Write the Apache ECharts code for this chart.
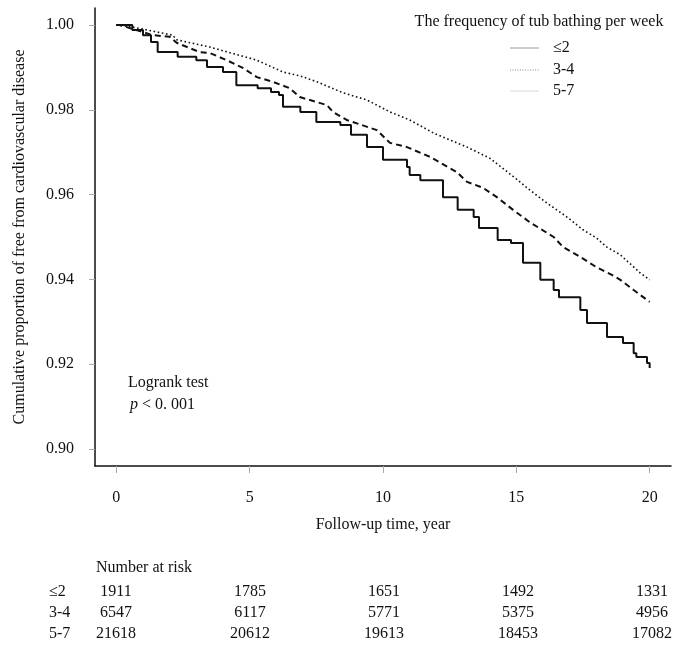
<!DOCTYPE html>
<html>
<head>
<meta charset="utf-8">
<script src="https://cdn.jsdelivr.net/npm/echarts@6/dist/echarts.min.js"></script>
<style>
html,body{margin:0;padding:0;background:#fff;}
#chart{width:688px;height:653px;}
</style>
</head>
<body>
<div id="chart"></div>
<script>
// ---- data ----
const groupNames = ['≤2', '3-4', '5-7'];
const xTicks = [0, 5, 10, 15, 20];
const yTicks = [0.90, 0.92, 0.94, 0.96, 0.98, 1.00];

// ≤2 (solid)
const t1 = [0, 0.6, 1.0, 1.3, 1.55, 2.3, 3.0, 3.4, 4.0, 4.5, 5.3, 5.8, 6.1, 6.25, 6.9, 7.5, 8.4, 8.8, 9.4, 10.0, 10.9, 11.0, 11.4, 12.25, 12.8, 13.4, 13.6, 14.3, 14.8, 15.25, 15.9, 16.4, 16.6, 17.4, 17.65, 18.4, 19.0, 19.4, 19.5, 19.9, 20.0];
const s1 = [1.0, 0.9988, 0.9976, 0.9960, 0.9936, 0.9925, 0.9917, 0.9901, 0.9889, 0.9858, 0.9851, 0.9842, 0.9835, 0.9807, 0.9795, 0.9771, 0.9764, 0.9741, 0.9712, 0.9682, 0.9665, 0.9646, 0.9634, 0.9594, 0.9564, 0.9547, 0.9521, 0.9493, 0.9486, 0.9439, 0.9399, 0.9375, 0.9358, 0.9328, 0.9297, 0.9264, 0.9250, 0.9226, 0.9217, 0.9203, 0.9191];

// 3-4 (dashed)
const t2 = [0, 0.13, 1.36, 2.0, 2.26, 3.13, 3.5, 4.14, 4.74, 5.27, 5.87, 6.5, 6.88, 7.9, 8.12, 8.64, 9.77, 10.26, 10.9, 11.76, 12.77, 13.15, 13.75, 14.27, 14.88, 15.5, 16.4, 16.76, 17.4, 18.0, 18.6, 18.9, 19.4, 20.0];
const s2 = [1.0, 1.0, 0.9976, 0.9972, 0.9958, 0.9936, 0.9934, 0.9917, 0.9899, 0.9877, 0.9866, 0.9851, 0.9830, 0.9811, 0.9795, 0.9776, 0.9752, 0.9722, 0.9712, 0.9689, 0.9653, 0.9630, 0.9616, 0.9594, 0.9564, 0.9535, 0.9500, 0.9476, 0.9453, 0.9429, 0.9410, 0.9399, 0.9375, 0.9347];

// 5-7 (dotted)
const t3 = [0, 0.62, 2.11, 2.26, 3.5, 5.27, 6.25, 6.88, 7.52, 8.5, 9.4, 10.26, 11.0, 11.9, 13.15, 14.0, 14.9, 15.5, 16.15, 16.9, 17.5, 18.0, 18.4, 18.9, 19.65, 20.0];
const s3 = [1.0, 0.9995, 0.9976, 0.9965, 0.9948, 0.9917, 0.9889, 0.9880, 0.9866, 0.9840, 0.9823, 0.9795, 0.9776, 0.9745, 0.9712, 0.9686, 0.9642, 0.9611, 0.9580, 0.9547, 0.9517, 0.9498, 0.9476, 0.9458, 0.9415, 0.9399];

// number at risk
const riskLabels = ['≤2', '3-4', '5-7'];
const risk1 = [1911, 1785, 1651, 1492, 1331];
const risk2 = [6547, 6117, 5771, 5375, 4956];
const risk3 = [21618, 20612, 19613, 18453, 17082];

// ---- chart ----
const FONT = '"Liberation Serif", "Times New Roman", serif';
const zip = (t, s) => t.map((v, i) => [v, s[i]]);

const chart = echarts.init(document.getElementById('chart'), null, {renderer: 'canvas'});

const graphic = [];
function txt(text, x, y, align, extra) {
  graphic.push(Object.assign({
    type: 'text', silent: true,
    style: {text: text, x: x, y: y, fill: '#111', font: '16px ' + FONT,
            textAlign: align || 'left', textVerticalAlign: 'middle'}
  }, extra || {}));
}
// legend
txt('The frequency of tub bathing per week', 539, 22, 'center');
const legendStyles = [
  {stroke: '#9a9a9a', lineWidth: 1, lineDash: null},
  {stroke: '#8a8a8a', lineWidth: 1, lineDash: [1, 1.5]},
  {stroke: '#d8d8d8', lineWidth: 1, lineDash: null}
];
const legendY = [48, 70, 91];
groupNames.forEach((g, i) => {
  graphic.push({type: 'line', silent: true,
    shape: {x1: 510, y1: legendY[i], x2: 539, y2: legendY[i]},
    style: legendStyles[i]});
  txt(g, 553, legendY[i], 'left');
});
// logrank annotation
txt('Logrank test', 128, 383, 'left');
graphic.push({type: 'text', silent: true,
  style: {text: '{i|p} < 0. 001', x: 130, y: 405, textVerticalAlign: 'middle',
          font: '16px ' + FONT, fill: '#111',
          rich: {i: {fontStyle: 'italic', fontFamily: FONT, fontSize: 16, fill: '#111'}}}});
// risk table
txt('Number at risk', 96, 568, 'left');
const riskRows = [risk1, risk2, risk3];
const riskRowY = [592, 613, 634];
const riskColX = [116, 250, 384, 518, 652];
riskRows.forEach((row, r) => {
  txt(riskLabels[r], 49, riskRowY[r], 'left');
  row.forEach((v, c) => txt(String(v), riskColX[c], riskRowY[r], 'center'));
});

const option = {
  animation: false,
  backgroundColor: '#fff',
  grid: {left: 95, right: 17, top: 8, bottom: 187, containLabel: false},
  xAxis: {
    type: 'value', min: -0.8, max: 20.8,
    name: 'Follow-up time, year', nameLocation: 'middle', nameGap: 51,
    nameTextStyle: {fontFamily: FONT, fontSize: 16, color: '#111'},
    axisLine: {show: true, onZero: false, lineStyle: {color: '#111', width: 1.5}},
    axisTick: {show: true, length: 7, customValues: xTicks, lineStyle: {color: '#aaa', width: 1}},
    axisLabel: {customValues: xTicks, margin: 24, fontFamily: FONT, fontSize: 16, color: '#111'},
    splitLine: {show: false}
  },
  yAxis: {
    type: 'value', min: 0.896, max: 1.004,
    name: 'Cumulative proportion of free from cardiovascular disease',
    nameLocation: 'middle', nameGap: 67, nameRotate: 90,
    nameTextStyle: {fontFamily: FONT, fontSize: 16, color: '#111'},
    axisLine: {show: true, onZero: false, lineStyle: {color: '#111', width: 1.5}},
    axisTick: {show: true, length: 6, customValues: yTicks, lineStyle: {color: '#aaa', width: 1}},
    axisLabel: {customValues: yTicks, margin: 21, fontFamily: FONT, fontSize: 16, color: '#111',
                formatter: v => v.toFixed(2)},
    splitLine: {show: false}
  },
  series: [
    {name: groupNames[0], type: 'line', step: 'end', data: zip(t1, s1), showSymbol: false,
     lineStyle: {color: '#111', width: 2, type: 'solid'}},
    {name: groupNames[1], type: 'line', data: zip(t2, s2), showSymbol: false,
     lineStyle: {color: '#111', width: 2, type: [6, 4]}},
    {name: groupNames[2], type: 'line', data: zip(t3, s3), showSymbol: false,
     lineStyle: {color: '#111', width: 1.6, type: [1.6, 2.6]}}
  ],
  graphic: graphic
};
chart.setOption(option);
</script>
</body>
</html>
